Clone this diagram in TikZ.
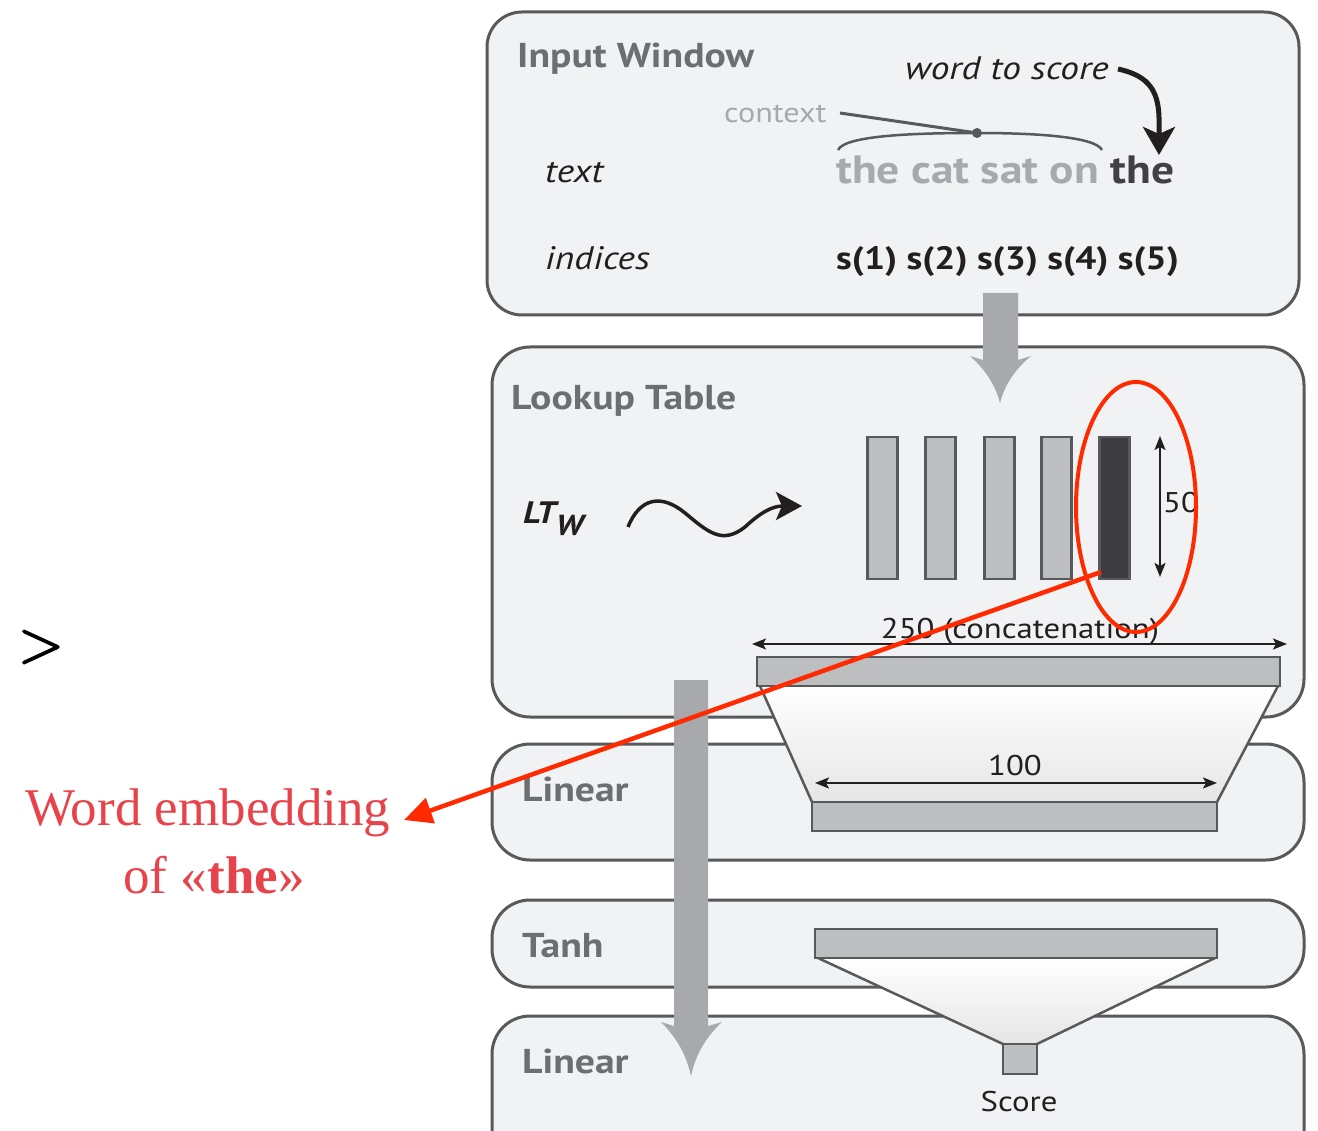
\documentclass[tikz,border=0pt]{standalone}
\usepackage{fontspec}
\usetikzlibrary{arrows.meta}
\newfontfamily\labfont{PT Sans}[FakeStretch=1.15]
\newfontfamily\redfont{Liberation Serif}
\newfontfamily\gtfont{Latin Modern Roman}[FakeBold=2.5]
\definecolor{boxfill}{HTML}{F1F2F4}
\definecolor{boxdraw}{HTML}{58595B}
\definecolor{labgray}{HTML}{6D6E71}
\definecolor{ltgray}{HTML}{A7A9AC}
\definecolor{barfill}{HTML}{BCBEC0}
\definecolor{darkbar}{HTML}{3D3D3F}
\definecolor{arrgray}{HTML}{A7A9AC}
\definecolor{inkdark}{HTML}{231F20}
\definecolor{thedark}{HTML}{414042}
\definecolor{redline}{HTML}{FF2A00}
\definecolor{redtext}{HTML}{E8434A}
\begin{document}
\begin{tikzpicture}[x=1pt,y=-1pt,
  layerbox/.style={draw=boxdraw,line width=3pt,fill=boxfill,rounded corners=38pt},
  lab/.style={inner sep=0pt,anchor=base west,text=labgray,font=\labfont\bfseries\fontsize{34.5}{40}\selectfont},
  itl/.style={inner sep=0pt,anchor=base west,text=inkdark,font=\labfont\itshape\fontsize{32.5}{38}\selectfont},
  dimtxt/.style={inner sep=0pt,anchor=base,text=inkdark,font=\labfont\fontsize{28.5}{34}\selectfont},
  vbar/.style={draw=boxdraw,line width=2.5pt,fill=barfill,minimum width=30pt,minimum height=142pt,inner sep=0pt},
  hbar/.style={draw=boxdraw,line width=2.5pt,fill=barfill,inner sep=0pt},
  dimarrow/.style={line width=2pt,inkdark,{Stealth[length=14pt,width=11pt,inset=3pt]}-{Stealth[length=14pt,width=11pt,inset=3pt]}},
  bigarrow/.style={fill=arrgray,draw=none},
  funnel/.style={top color=white,bottom color=black!10,draw=none}
]
\useasboundingbox (0,0) rectangle (1318,1131);
% layer boxes
\begin{scope}
\clip (0,0) rectangle (1318,1131);
\draw[layerbox,rounded corners=35pt] (487,12) rectangle (1299,315);
\draw[layerbox] (492,347) rectangle (1304,717);
\draw[layerbox] (492,744) rectangle (1304,860);
\draw[layerbox] (492,900) rectangle (1304,987);
\draw[layerbox] (492,1016) rectangle (1304,1180);
\end{scope}

% Input window
\node[lab] (inwin) at (517,68) {Input Window};
\node[itl] (wts) at (905,80) {word to score};
\node[inner sep=0pt,anchor=base west,text=ltgray,font=\labfont\fontsize{28}{34}\selectfont] (ctx) at (724,123) {context};
\node[itl] (txtlab) at (545,183) {text};
\node[itl] (idxlab) at (545,270) {indices};
\node[inner sep=0pt,anchor=base west,font=\labfont\bfseries\fontsize{39.5}{44}\selectfont] (sent) at (836,184) {\textcolor{ltgray}{the cat sat on} \textcolor{thedark}{the}};
\node[inner sep=0pt,anchor=base west,text=inkdark,font=\labfont\bfseries\fontsize{32.3}{40}\selectfont] (idx) at (836,270) {s(1) s(2) s(3) s(4) s(5)};
\coordinate (ctxdot) at (977,133);
\coordinate (ctxend) at (840,113);
\draw[boxdraw,line width=3pt] (ctxend) -- (ctxdot);
\draw[boxdraw,line width=2.5pt] (838,150) .. controls (845,134) and (930,133) .. (ctxdot) .. controls (1030,133) and (1095,136) .. (1102,150);
\fill[boxdraw] (ctxdot) circle (5pt);
\coordinate (wtsstart) at (1118,69);
\coordinate (wtstip) at (1159,155);
\draw[inkdark,line width=5pt,-{Stealth[length=28pt,width=32pt,inset=7pt]}] (wtsstart) .. controls (1150,76) and (1160,92) .. (1159,125) -- (wtstip);

% arrow input -> lookup
\path[bigarrow] (983,293) -- (1018,293) -- (1018,360) -- (1031,356) .. controls (1012,372) and (1004,388) .. (1000,403) .. controls (996,388) and (988,372) .. (970,356) -- (983,360) -- cycle;

% Lookup table
\node[lab] (lookup) at (511,410) {Lookup Table};
\node[inner sep=0pt,anchor=base west,text=inkdark,font=\labfont\bfseries\itshape\fontsize{31}{36}\selectfont] (ltw) at (523,523) {LT\raisebox{-12pt}{\fontsize{29}{30}\selectfont W}};
\draw[inkdark,line width=3.5pt,-{Stealth[length=26pt,width=28pt,inset=6pt]}] (628,527) .. controls (640,497) and (662,494) .. (685,513) .. controls (708,532) and (722,545) .. (745,527) .. controls (760,513) and (772,506) .. (802,506);
\node[vbar] (b1) at (882.5,508) {};
\node[vbar] (b2) at (940.5,508) {};
\node[vbar] (b3) at (999.5,508) {};
\node[vbar] (b4) at (1056.5,508) {};
\node[vbar,fill=darkbar] (b5) at (1114.5,508) {};
\coordinate (d50t) at (1160,436);
\coordinate (d50b) at (1160,577);
\draw[dimarrow] (d50t) -- (d50b);
\node[inner sep=0pt,anchor=base west,text=inkdark,font=\labfont\fontsize{28.5}{34}\selectfont] (fifty) at (1163,512) {50};
\node[dimtxt] (d250) at (1020,638) {250 (concatenation)};
\coordinate (d250l) at (752,644);
\coordinate (d250r) at (1287,644);
\draw[dimarrow] (d250l) -- (d250r);

% funnel 250 -> 100
\shade[funnel] (760,686) -- (1278,686) -- (1217,802) -- (812,802) -- cycle;
\draw[boxdraw,line width=2.5pt] (760,686) -- (812,802) (1278,686) -- (1217,802);
\node[hbar,minimum width=523pt,minimum height=29pt] (wide) at (1018.5,671.5) {};
\node[hbar,minimum width=405pt,minimum height=29pt] (hid) at (1014.5,816.5) {};
\node[dimtxt] (d100) at (1015,775) {100};
\coordinate (d100l) at (815,783);
\coordinate (d100r) at (1217,783);
\draw[dimarrow] (d100l) -- (d100r);

% Linear / Tanh / Linear
\node[lab] (lin1) at (522,801) {Linear};
\node[lab] (tanh) at (522,957) {Tanh};
\node[lab] (lin2) at (522,1073) {Linear};
\shade[funnel] (818,958) -- (1215,958) -- (1037,1044) -- (1003,1044) -- cycle;
\draw[boxdraw,line width=2.5pt] (818,958) -- (1003,1044) (1215,958) -- (1037,1044);
\node[hbar,minimum width=402pt,minimum height=29pt] (tbar) at (1016,943.5) {};
\node[hbar,minimum width=34pt,minimum height=30pt] (score) at (1020,1059) {};
\node[inner sep=0pt,anchor=base,text=inkdark,font=\labfont\fontsize{28.5}{34}\selectfont] (scorelab) at (1019,1111) {Score};

% long arrow
\path[bigarrow] (674,680) -- (708,680) -- (708,1026) -- (722,1022) .. controls (703,1040) and (695,1058) .. (691,1076) .. controls (687,1058) and (679,1040) .. (661,1022) -- (674,1026) -- cycle;

% left annotations
\node[inner sep=0pt,text=black,font=\gtfont\fontsize{60}{70}\selectfont] (gt) at (41,647) {>};
\node[inner sep=0pt,anchor=base west,text=redtext,font=\redfont\fontsize{53}{60}\selectfont] (emb1) at (25,825) {Word embedding};
\node[inner sep=0pt,anchor=base,text=redtext,font=\redfont\fontsize{53}{60}\selectfont] (emb2) at (214,893) {of «\textbf{the}»};

% red ellipse and arrow
\draw[redline,line width=4pt] (1136,507) ellipse [x radius=60pt,y radius=125pt];
\coordinate (redstart) at (1101,572);
\coordinate (redtip) at (404,820);
\draw[redline,line width=4.5pt,-{Triangle[length=28pt,width=26pt]}] (redstart) -- (redtip);
\end{tikzpicture}
\end{document}
